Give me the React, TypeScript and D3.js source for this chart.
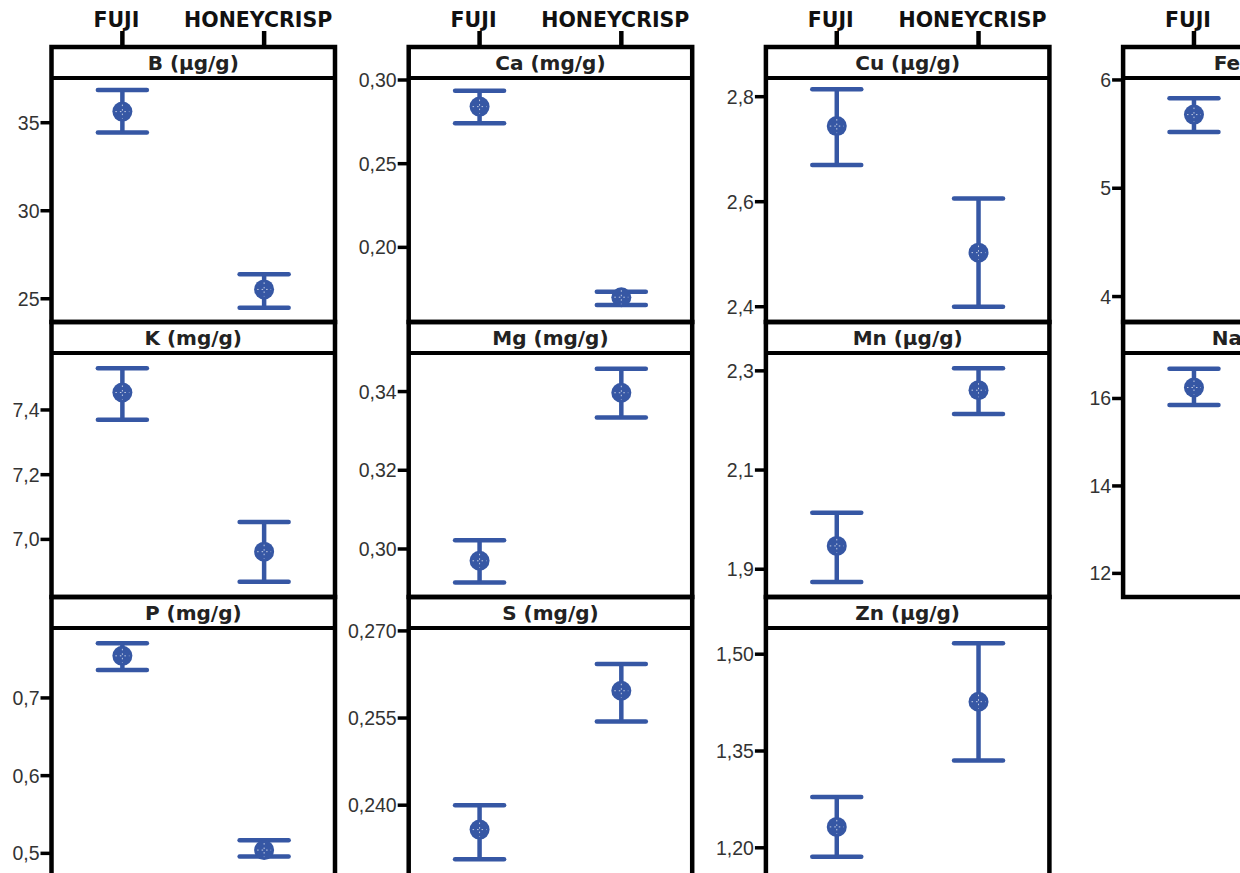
import React from "react";
import * as d3 from "d3";

const groups = ["FUJI", "HONEYCRISP"];
const panelNames = ["B (µg/g)", "Ca (mg/g)", "Cu (µg/g)", "Fe (µg/g)", "K (mg/g)", "Mg (mg/g)", "Mn (µg/g)", "Na (µg/g)", "P (mg/g)", "S (mg/g)", "Zn (µg/g)"];
const fujiMean = [35.63, 0.2841, 2.744, 5.68, 7.454, 0.297, 1.947, 16.25, 0.7542, 0.2358, 1.2324];
const fujiLow = [34.45, 0.2741, 2.67, 5.52, 7.37, 0.2915, 1.874, 15.85, 0.7359, 0.2307, 1.1861];
const fujiHigh = [36.86, 0.2936, 2.814, 5.83, 7.529, 0.3022, 2.014, 16.68, 0.7705, 0.24, 1.2787];
const honeyMean = [25.53, 0.1702, 2.503, 4.15, 6.962, 0.3397, 2.261, 12.0, 0.5042, 0.2597, 1.4264];
const honeyLow = [24.49, 0.1655, 2.4, 3.85, 6.869, 0.3334, 2.213, 11.6, 0.4959, 0.2544, 1.3353];
const honeyHigh = [26.39, 0.1735, 2.606, 4.45, 7.054, 0.3458, 2.305, 12.45, 0.517, 0.2643, 1.517];
const yDomains: [number, number][] = [
  [23.68, 37.54], [0.1554, 0.3012], [2.3709, 2.8356], [3.765, 6.018],
  [6.822, 7.576], [0.2878, 0.3498], [1.844, 2.336], [11.46, 17.04],
  [0.476, 0.79], [0.2285, 0.2705], [1.1625, 1.5406],
];
const yTicks = [
  [25, 30, 35], [0.2, 0.25, 0.3], [2.4, 2.6, 2.8], [4, 5, 6],
  [7.0, 7.2, 7.4], [0.3, 0.32, 0.34], [1.9, 2.1, 2.3], [12, 14, 16],
  [0.5, 0.6, 0.7], [0.24, 0.255, 0.27], [1.2, 1.35, 1.5],
];
const tickDecimals = [0, 2, 1, 0, 1, 2, 1, 0, 1, 3, 2];

const W = 1240;
const H = 873;
const NCOL = 4;
const colLeft0 = 51.5;
const colStep = 357.2;
const panelW = 283.5;
const rowTop0 = 47;
const rowStep = 275;
const stripH = 31;
const BLUE = "#3657a4";
const locale = d3.formatLocale({ decimal: ",", thousands: ".", grouping: [3], currency: ["", ""] });

export default function App() {
  const x = d3.scalePoint<string>().domain(groups).range([0, panelW]).padding(0.5);
  const cols = d3.range(NCOL);
  const nRows = Math.ceil(panelNames.length / NCOL);
  return (
    <svg width={W} height={H} style={{ position: "absolute", left: 0, top: 0, background: "#fff" }}>
      <rect width={W} height={H} fill="#fff" />
      {cols.map((c) => {
        const left = colLeft0 + c * colStep;
        return (
          <g key={"hdr" + c}>
            {groups.map((g) => (
              <g key={g}>
                <line x1={left + x(g)!} x2={left + x(g)!} y1={31} y2={rowTop0} stroke="#000" strokeWidth={4.5} />
                <text x={left + x(g)! - 6} y={27} textAnchor="middle" fontFamily="DejaVu Sans" fontWeight="bold" fontSize={20.5} fill="#111">{g}</text>
              </g>
            ))}
          </g>
        );
      })}
      {panelNames.map((name, i) => {
        const c = i % NCOL;
        const r = Math.floor(i / NCOL);
        const left = colLeft0 + c * colStep;
        const top = rowTop0 + r * rowStep;
        const bottom = top + rowStep;
        const plotTop = top + stripH;
        const y = d3.scaleLinear().domain(yDomains[i]).range([bottom, plotTop]);
        const fmt = locale.format("." + tickDecimals[i] + "f");
        const frameH = r === nRows - 1 ? rowStep + 6 : rowStep;
        const pts = [
          { g: groups[0], m: fujiMean[i], lo: fujiLow[i], hi: fujiHigh[i] },
          { g: groups[1], m: honeyMean[i], lo: honeyLow[i], hi: honeyHigh[i] },
        ];
        return (
          <g key={name}>
            <text x={left + panelW / 2} y={top + stripH / 2 + 7} textAnchor="middle" fontFamily="DejaVu Sans" fontWeight="bold" fontSize={20} fill="#222">{name}</text>
            {pts.map((p) => {
              const cx = left + x(p.g)!;
              const cy = y(p.m);
              return (
                <g key={p.g}>
                  <line x1={cx} x2={cx} y1={y(p.hi)} y2={y(p.lo)} stroke={BLUE} strokeWidth={4.5} />
                  <line x1={cx - 24.5} x2={cx + 24.5} y1={y(p.hi)} y2={y(p.hi)} stroke={BLUE} strokeWidth={4.5} strokeLinecap="round" />
                  <line x1={cx - 24.5} x2={cx + 24.5} y1={y(p.lo)} y2={y(p.lo)} stroke={BLUE} strokeWidth={4.5} strokeLinecap="round" />
                  <circle cx={cx} cy={cy} r={10} fill={BLUE} />
                  <line x1={cx - 7} x2={cx + 7} y1={cy} y2={cy} stroke="#fff" strokeWidth={1} strokeDasharray="1.5 3" opacity={0.7} />
                  <line x1={cx} x2={cx} y1={cy - 7} y2={cy + 7} stroke="#fff" strokeWidth={1} strokeDasharray="1.5 3" opacity={0.7} />
                </g>
              );
            })}
            {yTicks[i].map((t) => (
              <g key={t}>
                <line x1={left - 11} x2={left} y1={y(t)} y2={y(t)} stroke="#000" strokeWidth={3.5} />
                <text x={left - 12} y={y(t)} dy="0.36em" textAnchor="end" fontFamily="Liberation Sans" fontSize={19.5} fill="#333">{fmt(t)}</text>
              </g>
            ))}
            <rect x={left} y={top} width={panelW} height={frameH} fill="none" stroke="#000" strokeWidth={4.5} />
            <line x1={left} x2={left + panelW} y1={plotTop} y2={plotTop} stroke="#000" strokeWidth={4} />
          </g>
        );
      })}
    </svg>
  );
}
